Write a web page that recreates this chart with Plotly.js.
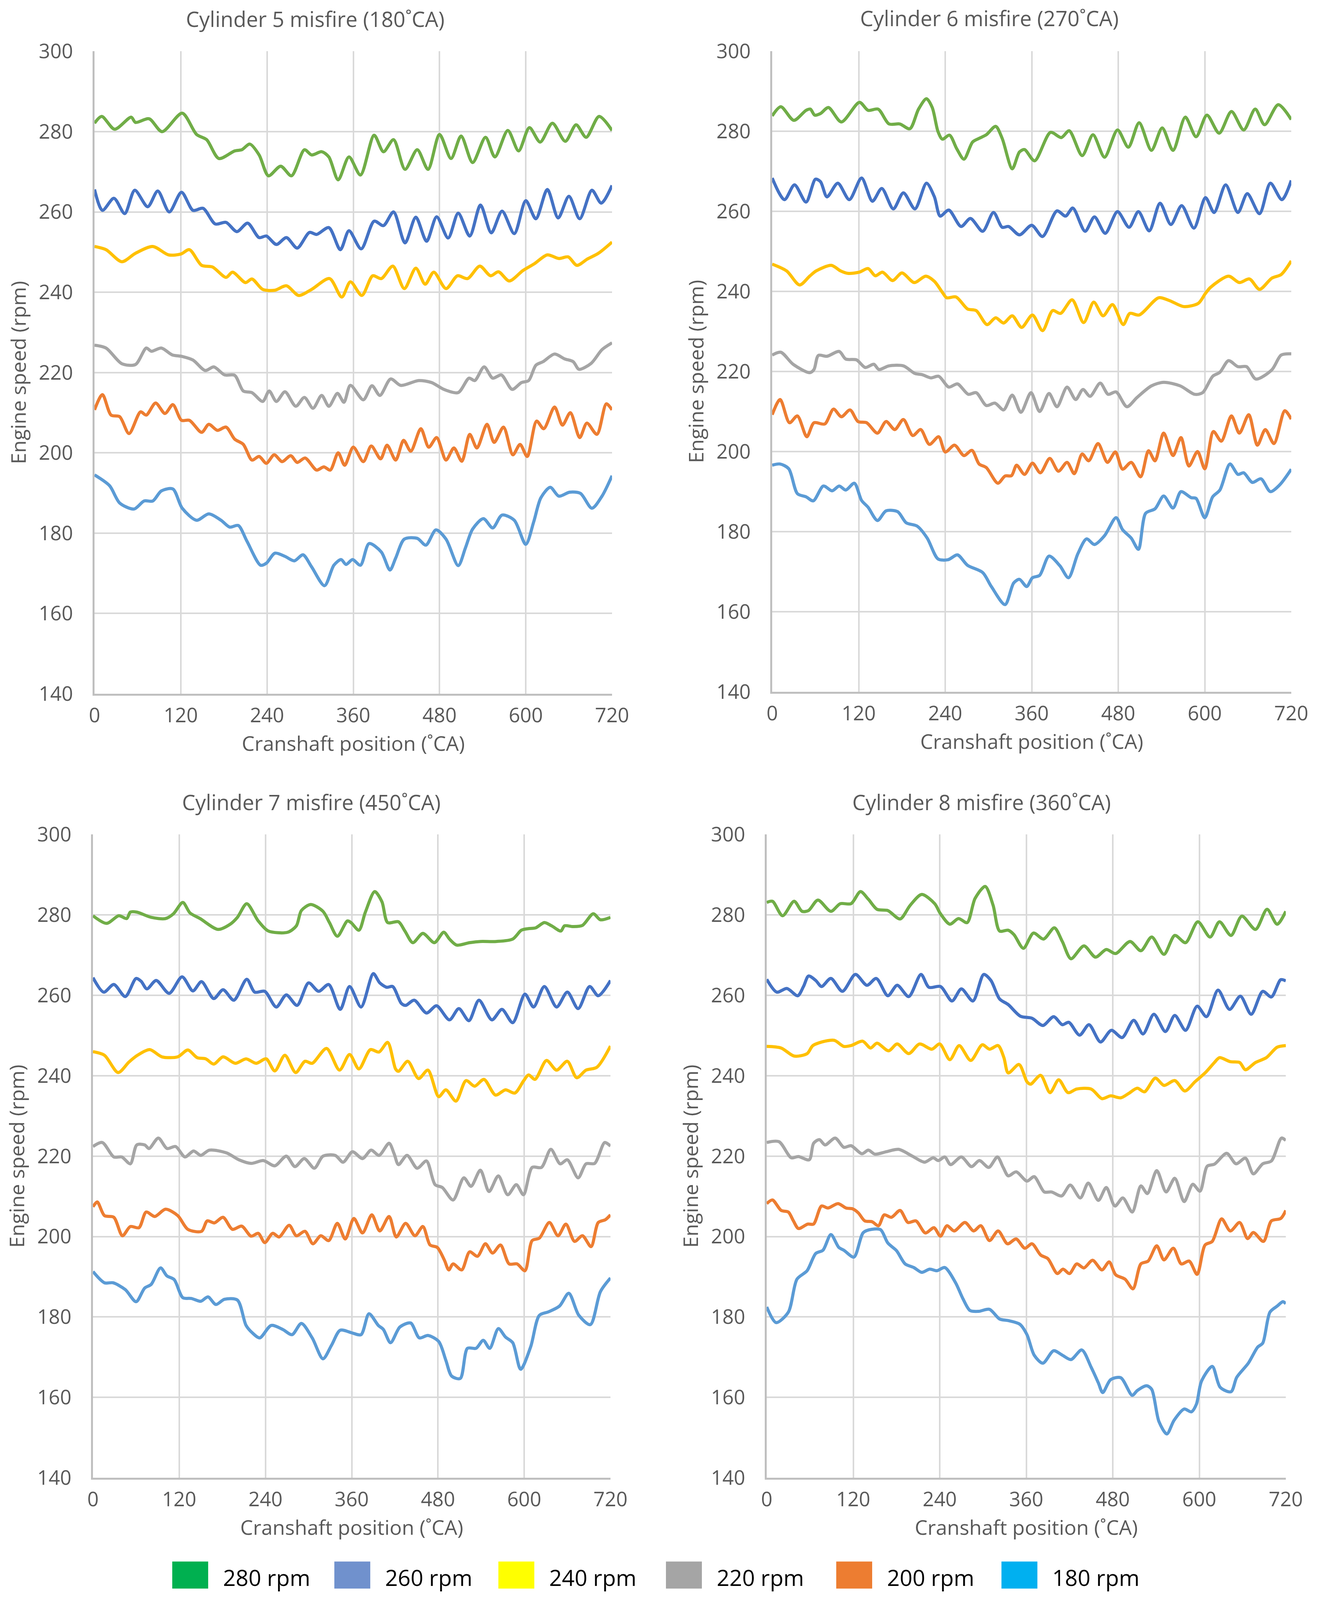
<!DOCTYPE html>
<html><head><meta charset="utf-8">
<script src="https://cdn.plot.ly/plotly-3.0.1.min.js"></script>
<style>html,body{margin:0;padding:0;background:#fff;overflow:hidden}</style>
</head><body><div id="chart"></div><script>
// ---- data: [crank angle (deg CA), engine speed (rpm)] ----
const cyl5_280 = [[0,282.1],[10,283.8],[28,280.6],[51,283.6],[57,282.3],[76,283.2],[94,280],[122,284.6],[142,279.3],[156,278],[173,273.3],[195,275.2],[205,275.5],[216,276.9],[229,274.2],[242,269],[259,271.4],[274,269],[292,275.5],[302,274.2],[316,275],[326,273.7],[339,268],[354,273.7],[370,269.2],[389,279.1],[402,275],[416,278],[432,270.6],[449,275.5],[464,270.6],[480,279.3],[496,273.3],[510,278.9],[526,272.3],[544,278.6],[557,273.7],[575,280.3],[590,275.2],[605,281],[620,277.4],[637,282.1],[655,277.6],[670,281.7],[684,278.6],[702,283.8],[720,280.3]];
const cyl5_260 = [[0,265.6],[11,260.4],[27,263.4],[42,259.6],[56,265.4],[74,261.3],[88,265.2],[104,260],[121,264.9],[137,260.4],[151,260.9],[168,257],[183,257.4],[198,255.1],[213,257.2],[229,253.6],[239,254],[253,251.9],[267,253.6],[282,251],[299,254.9],[309,254.4],[326,256.1],[342,250.6],[354,255.3],[371,250.8],[389,257.7],[402,256.6],[416,260],[432,252.3],[447,258.7],[462,252.7],[476,258.8],[492,253.5],[506,259.7],[522,254],[537,261.7],[552,254.8],[567,260.2],[584,254.6],[600,262.8],[614,258.3],[630,265.6],[645,258.5],[660,263.9],[675,258.3],[692,265.4],[705,262.2],[720,266.6]];
const cyl5_240 = [[0,251.4],[16,250.6],[38,247.6],[57,249.7],[81,251.4],[103,249.3],[120,249.5],[132,250.6],[149,246.7],[164,246.3],[183,243.7],[192,245],[210,242.4],[219,243.3],[234,240.7],[251,240.5],[267,241.6],[284,239.2],[302,240.7],[327,243.4],[344,238.8],[356,242.6],[372,239.2],[387,244.1],[399,243.4],[415,246.5],[431,240.9],[447,246],[460,242],[472,245],[489,240.9],[505,244.1],[519,243.4],[536,246.5],[551,244.1],[562,245.1],[577,242.8],[596,245.4],[612,247.1],[630,249.3],[646,248.4],[659,248.8],[671,246.7],[686,248.3],[701,249.7],[720,252.5]];
const cyl5_220 = [[0,226.8],[16,226.1],[38,222.2],[57,222],[72,226.1],[79,225.3],[93,226.1],[108,224.4],[122,224],[137,223.1],[154,220.5],[166,221.4],[181,219.4],[195,219.3],[207,215.4],[219,215],[234,212.8],[243,215.4],[253,212.8],[265,215.2],[280,211.6],[292,213.8],[304,211.1],[316,214.3],[326,211.6],[338,214.8],[347,212.6],[356,216.8],[374,213.2],[386,216.7],[397,214.3],[412,218.4],[426,216.8],[451,218],[469,217.5],[486,215.8],[506,215],[521,218.6],[529,218],[542,221.4],[554,218.6],[566,219.4],[581,215.8],[594,217.5],[604,218],[614,221.8],[624,222.7],[640,224.6],[654,223.4],[666,222.7],[674,220.8],[691,222.3],[706,225.7],[720,227.4]];
const cyl5_200 = [[0,210.7],[11,214.5],[23,209.4],[35,209],[48,204.8],[64,210.2],[72,209.4],[85,212.4],[98,209.8],[109,212],[121,208.1],[132,208.1],[149,205.1],[159,207.1],[171,205.6],[183,206.4],[195,203.4],[207,202.1],[219,198.2],[229,199.1],[239,197.4],[250,199.5],[261,197.8],[273,199.3],[282,197.6],[293,198.7],[309,195.7],[319,196.5],[328,195.7],[339,200],[348,196.9],[360,201.4],[374,197.8],[385,201.7],[398,198.5],[407,201.9],[419,198.2],[430,203.1],[440,200.4],[454,206],[465,201.4],[476,203.8],[489,198.2],[500,201.2],[511,197.9],[522,204.6],[532,201.2],[546,207.1],[556,202.6],[569,206.4],[582,199.5],[592,202.1],[602,199.1],[615,207.9],[625,206],[640,211.4],[651,206.9],[662,210],[675,203.8],[685,207.4],[699,204.6],[712,212.2],[720,210.7]];
const cyl5_180 = [[0,194.5],[21,191.8],[35,187.5],[55,186],[69,188],[81,188],[93,190.5],[109,191],[122,186.2],[142,183.2],[159,184.8],[176,183.2],[188,181.5],[200,181.9],[212,178],[231,172],[239,172.5],[251,175],[265,174.2],[278,173.1],[290,174.6],[302,171.6],[320,166.9],[333,172],[343,173.4],[350,172.2],[359,173.4],[370,172],[382,177.4],[399,175.3],[411,170.8],[419,173.8],[431,178.5],[449,178.7],[461,177],[475,180.8],[489,178.5],[506,171.9],[516,176.3],[526,181],[541,183.6],[554,181.3],[567,184.5],[584,183.2],[600,177.2],[611,182.8],[621,188.8],[634,191.4],[646,189.2],[661,190.2],[676,189.9],[692,186.2],[706,189.2],[720,194.3]];

const cyl6_280 = [[0,283.8],[12,286.1],[30,282.7],[47,285.2],[53,285.5],[59,284],[67,284.4],[78,285.9],[96,282.3],[121,287.2],[133,285.2],[147,285.5],[162,281.8],[177,281.8],[191,280.6],[203,285.5],[214,288.1],[222,285.9],[230,279.9],[236,278],[246,279],[256,275.6],[266,273],[278,277.3],[287,278.2],[297,279.1],[310,281.2],[319,278.2],[333,270.6],[343,274.8],[350,275.4],[364,272.6],[386,279.7],[401,278.4],[412,280.1],[430,273.9],[445,279.1],[461,273.5],[479,280.3],[494,276],[509,282.1],[526,275.2],[541,280.8],[556,275.2],[573,283.5],[588,278.6],[603,284],[620,279.5],[637,284.9],[654,280.3],[670,285.5],[683,281.6],[702,286.6],[720,282.9]];
const cyl6_260 = [[0,268.3],[17,262.9],[31,266.6],[47,262.3],[60,268],[67,267.4],[76,263.6],[91,267],[107,262.9],[124,268.3],[139,262.5],[152,265.7],[168,260.6],[182,264.6],[198,260.6],[214,267],[225,263.6],[233,258.8],[245,260.3],[262,256.2],[275,258.2],[292,255],[307,259.7],[319,256],[328,256.2],[343,254.1],[360,256.5],[375,253.7],[395,260.1],[407,258.8],[417,260.8],[434,255],[447,258.6],[462,254.5],[479,259.9],[495,256],[508,259.9],[523,255.1],[538,262],[553,256.7],[568,261.4],[585,255.8],[601,263.4],[613,259.7],[629,266.6],[646,259.7],[659,264.4],[676,259.4],[691,267],[707,262.9],[720,267.7]];
const cyl6_240 = [[0,246.8],[20,245.1],[38,241.6],[52,243.8],[61,245.1],[82,246.5],[95,245.1],[105,244.5],[121,244.8],[133,245.7],[143,243.9],[153,244.8],[167,242.7],[180,244.6],[197,242.2],[213,243.8],[225,242.5],[237,239.5],[242,238.4],[255,238.6],[271,235.6],[283,235.2],[298,231.7],[310,233.4],[321,232.1],[333,233.9],[346,231],[361,234.1],[375,230.2],[389,235.2],[400,234.5],[416,237.9],[432,232.2],[446,237.3],[459,233.9],[472,236.7],[487,231.7],[496,234.5],[509,234.1],[536,238.4],[551,237.7],[571,236.2],[591,237],[601,239.5],[608,241],[633,243.8],[648,242.2],[662,243.1],[676,240.5],[693,243.3],[706,244.2],[720,247.6]];
const cyl6_220 = [[0,224.1],[12,224.8],[29,221.8],[52,219.7],[58,220.5],[64,224],[76,223.8],[93,225],[102,223.1],[117,222.9],[129,221],[141,221.8],[148,220.5],[162,221.4],[182,221.4],[198,219.5],[208,219.2],[220,218.4],[231,218.8],[245,216.1],[257,216.9],[272,214.3],[283,214.7],[297,211.5],[309,212.1],[321,210.4],[333,214.1],[345,209.8],[359,214.7],[371,210],[384,214.5],[395,211.2],[409,216.1],[421,213],[431,215.5],[441,213.8],[455,217.1],[466,214.3],[477,214.9],[492,211.2],[506,213.5],[526,216.4],[543,217.3],[566,216.4],[586,214.3],[597,214.7],[611,218.8],[621,219.8],[633,222.7],[646,221.2],[658,221.2],[671,218.1],[693,220.4],[706,224.1],[720,224.4]];
const cyl6_200 = [[0,209.2],[11,213],[24,207.2],[35,208.9],[48,203.7],[58,207.2],[73,206.9],[85,210.6],[96,208.7],[108,210.4],[119,207.5],[131,207.2],[146,204.6],[158,207.5],[170,205.5],[182,208],[195,204],[206,205.5],[218,201.8],[231,203.7],[240,199.9],[253,201.6],[266,199],[277,200.3],[287,196.9],[297,196],[313,192.1],[323,193.9],[332,194],[339,196.6],[350,194.3],[361,197.1],[372,194.7],[385,198.3],[397,195.1],[409,197.3],[419,194.5],[430,199.4],[439,197.7],[452,202],[465,197.3],[476,199.9],[486,195.6],[498,197.3],[511,193.7],[522,200.2],[531,197.7],[543,204.6],[556,199],[567,203.5],[578,196.4],[590,200],[600,195.7],[612,205],[623,202.6],[637,208.9],[648,204.6],[661,209.2],[673,201.6],[684,205.5],[696,202],[711,210.2],[720,208.1]];
const cyl6_180 = [[0,196.6],[11,196.9],[23,195.7],[35,189.5],[47,188.7],[57,187.7],[71,191.4],[83,190.2],[93,191.4],[102,190.4],[114,192.1],[124,187.8],[133,186.1],[146,182.8],[158,185.2],[174,185],[186,182.2],[201,181.4],[215,178.4],[230,173.2],[244,173],[257,174.2],[271,171.6],[292,169.8],[304,166.3],[323,161.8],[335,167.2],[343,168.1],[353,166.3],[361,168.5],[371,169.1],[384,173.9],[399,171.5],[411,168.5],[424,174.5],[436,178.2],[447,176.8],[461,179],[477,183.5],[486,180.5],[498,178.4],[508,175.6],[518,184.6],[531,185.7],[543,188.9],[556,185.9],[567,190],[581,188.5],[588,188.3],[600,183.5],[611,188.7],[621,190.4],[635,196.9],[646,194.3],[654,194.7],[666,192.3],[678,193.2],[691,190],[704,191.7],[720,195.6]];

const cyl7_280 = [[0,279.8],[19,277.9],[36,279.8],[47,279.1],[52,280.7],[61,280.7],[81,279.4],[101,279.1],[112,280.3],[125,283.1],[135,280.5],[149,279.1],[174,276.4],[191,277.7],[201,279.4],[214,282.8],[230,278.5],[244,276],[271,275.7],[283,277.3],[290,281.1],[303,282.6],[320,280.9],[329,278.1],[340,274.7],[354,278.5],[359,278.1],[370,276.2],[379,280.7],[392,285.8],[402,283.3],[410,278.1],[425,278.3],[434,276],[445,273.1],[459,275.4],[475,273.1],[488,275.7],[496,274],[506,272.5],[524,273.1],[539,273.4],[561,273.4],[584,274],[596,276.2],[606,276.6],[616,276.8],[628,278.1],[638,277.3],[651,276],[656,277.3],[668,277.1],[681,277.4],[696,280.3],[706,278.8],[720,279.4]];
const cyl7_260 = [[0,264.4],[15,260.8],[29,262.7],[45,259.7],[60,264.2],[67,263.5],[75,261.6],[88,263.7],[106,260.5],[124,264.6],[139,261.1],[151,263.4],[168,259.2],[181,261.4],[196,258.8],[214,264],[225,260.8],[239,261],[255,257.1],[269,260.1],[284,257.5],[300,263.1],[314,261],[328,262.7],[344,256.5],[357,262.2],[373,257.1],[390,265.4],[399,263.1],[409,262],[417,262.2],[429,258],[435,257.5],[447,258.8],[464,255.6],[478,257.4],[496,253.9],[509,256.7],[523,253.7],[537,258.8],[555,253.9],[569,256.5],[584,253.2],[601,260.3],[613,257.1],[628,262.2],[645,257.1],[660,260.8],[675,256.7],[691,262.2],[703,259.9],[720,263.7]];
const cyl7_240 = [[0,246],[16,245.1],[35,240.8],[50,243.4],[62,245.1],[79,246.5],[96,244.7],[118,244.7],[132,246.4],[145,244.5],[157,244.2],[168,242.9],[181,244.7],[198,243.1],[213,244.2],[227,243.1],[241,244.2],[253,241.2],[267,245.1],[282,240.8],[295,243.6],[305,243.1],[325,246.8],[343,241.4],[357,245.3],[370,241.7],[386,246.5],[398,245.9],[410,248.3],[421,241.7],[425,241.1],[438,243.6],[453,239.3],[466,241.4],[481,234.8],[491,236.5],[505,233.7],[519,238.8],[531,237.4],[544,239.1],[560,235.2],[574,236.5],[587,235.7],[599,238.7],[606,240.2],[615,239.1],[631,243.8],[645,241.4],[660,243.6],[673,239.5],[686,241.4],[701,242.1],[720,247.4]];
const cyl7_220 = [[0,222.4],[13,223.4],[29,219.8],[40,219.8],[52,218.1],[61,222.8],[72,222.8],[78,221.9],[91,224.5],[103,221.9],[115,222.4],[128,219.8],[140,221.3],[150,220.2],[162,221.5],[186,220.8],[203,219.1],[220,218.2],[237,218.9],[253,217.6],[269,220],[281,217.4],[294,219.4],[308,217],[320,220],[337,220.2],[348,218.5],[361,221.1],[375,219.4],[387,221.5],[398,220.2],[412,223.2],[419,220.6],[425,217.9],[437,220.2],[451,217],[464,218.8],[476,212.9],[486,212.2],[501,209.1],[516,214.6],[526,212.5],[539,216.5],[551,211.2],[564,215.1],[577,210.4],[589,212.9],[599,210.4],[611,217.2],[624,217.2],[637,221.7],[650,218.1],[660,219.1],[675,214.6],[686,218.1],[698,218.2],[712,223.4],[720,222.5]];
const cyl7_200 = [[0,207.4],[6,208.6],[16,205.2],[29,204.8],[41,200.2],[52,202.5],[64,202.2],[74,206.1],[86,205],[101,206.8],[118,205.2],[132,201.8],[151,201.3],[159,203.9],[169,203.4],[181,204.8],[194,201.8],[207,202.6],[220,200.1],[230,200.8],[239,198.5],[250,200.8],[259,199.9],[273,202.8],[283,200.2],[295,201.3],[306,198.2],[317,200.2],[328,199],[340,203.3],[351,199.4],[363,204.5],[375,200.9],[388,205.4],[399,201.4],[412,205],[422,199.9],[435,203.3],[448,200.2],[459,202.5],[469,197.9],[479,197.3],[489,194.1],[495,191.7],[501,193.2],[513,191.7],[524,196.2],[535,195.1],[546,198.2],[556,195.9],[567,197.9],[579,193.2],[590,193.2],[601,191.5],[611,199],[621,199.6],[635,203.5],[647,200.2],[658,203.1],[670,198.8],[681,200.2],[693,197.5],[703,203.5],[713,204.2],[720,205.4]];
const cyl7_180 = [[0,191.3],[16,188.5],[28,188.5],[45,186.8],[60,183.8],[72,187.2],[81,188.1],[94,192.2],[103,190.2],[113,189.3],[125,184.8],[137,184.6],[150,183.9],[160,185],[171,183.1],[183,184.4],[201,184.2],[213,177.9],[222,176],[232,174.8],[248,177.9],[264,176.9],[277,175.6],[290,178.4],[305,174.8],[320,169.6],[332,173],[344,176.7],[361,176],[373,175.6],[384,180.8],[397,177.9],[404,176.9],[414,173.6],[427,177.5],[442,178.5],[454,174.8],[466,175.4],[481,173.9],[491,169.2],[499,165.3],[511,164.7],[521,172.2],[533,172.2],[543,174.2],[552,172.2],[564,177.1],[574,175],[584,173.6],[595,167],[609,172.6],[621,180.4],[634,181.3],[649,182.7],[662,185.9],[676,180.4],[692,178.1],[706,186.3],[720,189.7]];

const cyl8_280 = [[0,283.1],[8,283.4],[22,279.8],[38,283.4],[49,280.9],[58,281.1],[71,283.7],[89,280.9],[102,282.8],[117,282.8],[130,285.8],[141,283.9],[153,281.4],[168,281.1],[185,279],[199,282.4],[215,285.1],[233,282.8],[241,280.3],[254,277.7],[266,279.1],[278,278.1],[289,284.1],[303,287.1],[314,282.4],[323,276],[335,276.2],[343,275.1],[356,271.7],[370,275.5],[384,274],[399,276.8],[410,273.4],[422,269.1],[440,272.3],[456,269.5],[471,271.4],[484,270.4],[504,273.4],[519,271.1],[534,274.5],[551,270.2],[566,274.9],[581,273.1],[598,278.3],[615,274.5],[628,278.3],[644,274.9],[659,279.7],[678,276.4],[694,281.4],[708,277.7],[720,280.9]];
const cyl8_260 = [[0,264],[14,260.8],[28,261.7],[43,259.9],[51,262.2],[58,264.8],[68,263.7],[76,262.2],[89,264.2],[105,261],[123,265.2],[139,262.5],[152,264.2],[168,259.9],[181,262.5],[197,259.7],[214,265.2],[225,262],[241,262.2],[257,258.6],[270,261.6],[286,258.6],[301,265.2],[311,263.7],[323,259.1],[335,257.7],[352,254.8],[368,254.3],[383,252.5],[398,254.7],[410,252.7],[419,253.3],[434,250.1],[447,252.7],[463,248.4],[478,251.3],[493,249.5],[509,253.8],[522,250.4],[537,255.3],[553,251],[566,255],[581,251.3],[597,257.3],[610,254.7],[626,261.3],[642,256.5],[657,259.8],[672,255.3],[688,261],[700,259.6],[713,263.9],[720,263.6]];
const cyl8_240 = [[0,247.3],[20,246.9],[38,244.9],[56,245.5],[64,247.5],[81,248.6],[94,248.8],[107,247.3],[117,247.5],[133,248.6],[144,246.9],[153,248.1],[169,246.2],[181,247.9],[197,245.5],[212,247.9],[229,246.6],[240,247.9],[254,244],[267,247.5],[283,243.8],[299,247.7],[309,246.6],[321,247.5],[329,244.5],[335,240.7],[350,242.8],[361,238.5],[366,237.9],[380,240.1],[393,235.8],[405,239],[418,235.8],[430,236.7],[450,236.7],[465,234.3],[477,235],[491,234.5],[502,235.6],[514,236.9],[524,236],[539,239.4],[551,237.6],[566,238.8],[580,236.2],[594,238.5],[608,240.7],[621,243.3],[628,244.5],[643,243.5],[656,243.3],[664,241.5],[678,243.3],[693,244.5],[708,247.1],[720,247.5]];
const cyl8_220 = [[0,223.4],[17,223.6],[34,219.6],[44,219.9],[59,219.1],[65,223.2],[73,224.1],[81,222.8],[95,224.5],[107,222.2],[117,222.6],[132,220.6],[141,221.5],[150,220.5],[166,221.1],[183,221.7],[202,220],[219,218.5],[231,219.6],[238,218.9],[247,219.8],[255,217.9],[270,219.8],[284,217.4],[295,218.9],[308,217.2],[320,219.8],[328,217.2],[335,215.1],[346,216.1],[361,213.8],[371,214.9],[385,211.1],[395,211.1],[409,210.1],[421,212.8],[435,209.6],[446,213.3],[460,209],[471,212.2],[483,207.6],[494,209.6],[507,206.1],[519,212.6],[528,210.7],[541,216.4],[554,211.1],[566,214.5],[579,208.7],[591,213],[601,211.3],[611,217.5],[621,218],[638,220.7],[651,218.1],[664,219.5],[675,215.6],[688,218.1],[700,218.8],[714,224.5],[720,223.9]];
const cyl8_200 = [[0,208.2],[8,209.1],[20,206.5],[30,206.1],[37,203.9],[44,202],[57,203.1],[65,203.1],[76,207.6],[85,207.1],[99,208.2],[110,207.1],[119,206.9],[127,205.9],[136,203.9],[146,203.7],[155,202.7],[163,205.4],[173,204.8],[185,206.5],[196,203.5],[207,203.9],[220,200.9],[232,202.2],[241,200.1],[250,202.7],[260,201.4],[275,203.5],[287,201.4],[297,202.7],[309,199],[321,201.4],[334,198.2],[346,199.4],[358,197.1],[368,198.2],[380,195.4],[390,194.5],[403,190.8],[411,191.9],[420,190.8],[430,193.2],[440,192.2],[452,194.1],[465,191.7],[475,193.7],[484,190.5],[497,189.4],[508,187],[519,193.2],[529,193.9],[541,197.7],[551,194.2],[564,197.1],[575,193.2],[586,193.9],[597,190.6],[608,197.9],[618,198.8],[631,204.4],[643,201.4],[656,203.5],[667,199.5],[675,201],[689,198.8],[700,203.9],[713,204.5],[720,206.5]];
const cyl8_180 = [[0,182.5],[13,178.6],[30,181.2],[42,189.4],[56,191.5],[68,195.8],[78,196.6],[89,200.5],[100,197.3],[107,196.6],[121,194.9],[134,201],[146,201.8],[158,201.7],[168,198.4],[180,196.5],[192,193.2],[204,192.3],[215,191.1],[226,191.9],[236,191.5],[247,192.3],[262,188.5],[272,184.6],[282,181.6],[294,181.4],[309,181.9],[323,179.5],[335,179.1],[351,178.2],[361,175.6],[371,170.5],[383,168.5],[398,171.6],[410,170.5],[422,169.4],[437,171.8],[450,167.5],[460,163.6],[466,161.2],[477,164.4],[491,164.9],[507,160.5],[514,161.7],[527,162.9],[534,162],[544,154],[555,150.9],[565,154.3],[579,157.1],[589,156.4],[596,158.3],[603,164],[618,167.7],[629,162.5],[644,161.4],[652,165],[668,168.5],[681,172.5],[688,173.5],[698,181.2],[708,182.7],[716,183.8],[720,183.3]];

const seriesNames = ['280 rpm','260 rpm','240 rpm','220 rpm','200 rpm','180 rpm'];
const lineColors  = ['#70AD47','#4472C4','#FFC000','#A5A5A5','#ED7D31','#5B9BD5'];
const legendColors= ['#00B050','#7091CD','#FFFF00','#A5A5A5','#ED7D31','#00B0F0'];
const chartTitles = ['Cylinder 5 misfire (180˚CA)','Cylinder 6 misfire (270˚CA)','Cylinder 7 misfire (450˚CA)','Cylinder 8 misfire (360˚CA)'];
const xTickVals = [0,120,240,360,480,600,720];
const yTickVals = [140,160,180,200,220,240,260,280,300];
const xTitle = 'Cranshaft position (˚CA)';
const yTitle = 'Engine speed (rpm)';

const panels = [
  [cyl5_280,cyl5_260,cyl5_240,cyl5_220,cyl5_200,cyl5_180],
  [cyl6_280,cyl6_260,cyl6_240,cyl6_220,cyl6_200,cyl6_180],
  [cyl7_280,cyl7_260,cyl7_240,cyl7_220,cyl7_200,cyl7_180],
  [cyl8_280,cyl8_260,cyl8_240,cyl8_220,cyl8_200,cyl8_180]
];

// ---- layout geometry (designed in reference pixels 3377 x 5328, mapped onto the real viewport) ----
const REF_W = 3377, REF_H = 5328;
const W = REF_W;
const H = Math.min(REF_H, window.innerHeight || REF_H);
document.getElementById('chart').style.width = W + 'px';
document.getElementById('chart').style.height = H + 'px';
const px = v => v / REF_W, py = v => 1 - v / REF_H;
const boxes = [ // [left, right, top, bottom]
  [242, 1567, 171, 2310],
  [1977, 3306, 170, 2304],
  [238, 1563, 2779, 4921],
  [1963, 3292, 2779, 4921]
];
const titlePos = [[807, 63], [2533, 60], [797, 2671], [2513, 2671]];
const FONT = '"Open Sans", "Noto Sans", sans-serif';
const GRAY = '#595959';

const traces = [];
panels.forEach((set, p) => {
  set.forEach((pts, s) => {
    traces.push({
      type: 'scatter', mode: 'lines',
      x: pts.map(d => d[0]), y: pts.map(d => d[1]),
      xaxis: 'x' + (p ? p + 1 : ''), yaxis: 'y' + (p ? p + 1 : ''),
      name: seriesNames[s], showlegend: false, hoverinfo: 'skip',
      line: {color: lineColors[s], width: 8, shape: 'spline', smoothing: 0.8}
    });
  });
});

const layout = {
  width: W, height: H, margin: {l: 0, r: 0, t: 0, b: 0},
  paper_bgcolor: '#fff', plot_bgcolor: '#fff', showlegend: false,
  font: {family: FONT, color: GRAY},
  annotations: [], shapes: []
};
boxes.forEach((b, p) => {
  const k = p ? p + 1 : '';
  layout['xaxis' + k] = {
    domain: [px(b[0]), px(b[1])], anchor: 'y' + k, range: [0, 720],
    tickmode: 'array', tickvals: xTickVals, ticks: '', showgrid: true,
    gridcolor: '#D9D9D9', gridwidth: 4, showline: true, linecolor: '#BFBFBF', linewidth: 5,
    zeroline: false, ticklabelstandoff: 7,
    tickfont: {family: FONT, size: 51, color: GRAY},
    title: {text: xTitle, font: {family: FONT, size: 52, color: GRAY}, standoff: 24}
  };
  layout['yaxis' + k] = {
    domain: [py(b[3]), py(b[2])], anchor: 'x' + k, range: [140, 300],
    tickmode: 'array', tickvals: yTickVals, ticks: '', showgrid: true,
    gridcolor: '#D9D9D9', gridwidth: 4, showline: true, linecolor: '#BFBFBF', linewidth: 5,
    zeroline: false, ticklabelstandoff: 40,
    tickfont: {family: FONT, size: 51, color: GRAY},
    title: {text: yTitle, font: {family: FONT, size: 52, color: GRAY}, standoff: 18}
  };
  layout.annotations.push({
    text: chartTitles[p], xref: 'paper', yref: 'paper',
    x: px(titlePos[p][0]), y: py(titlePos[p][1]), xanchor: 'center', yanchor: 'middle',
    showarrow: false, font: {family: FONT, size: 54, color: GRAY}
  });
});

// custom legend below the charts
const legLeft = [441, 856, 1276, 1705, 2141, 2564];
seriesNames.forEach((name, i) => {
  layout.shapes.push({
    type: 'rect', xref: 'paper', yref: 'paper', layer: 'above',
    x0: px(legLeft[i]), x1: px(legLeft[i] + 92), y0: py(5290), y1: py(5200),
    fillcolor: legendColors[i], line: {width: 0}
  });
  layout.annotations.push({
    text: name, xref: 'paper', yref: 'paper', x: px(legLeft[i] + 128), y: py(5252),
    xanchor: 'left', yanchor: 'middle', showarrow: false,
    font: {family: FONT, size: 57, color: '#000'}
  });
});

Plotly.newPlot('chart', traces, layout, {staticPlot: true});
</script></body></html>
